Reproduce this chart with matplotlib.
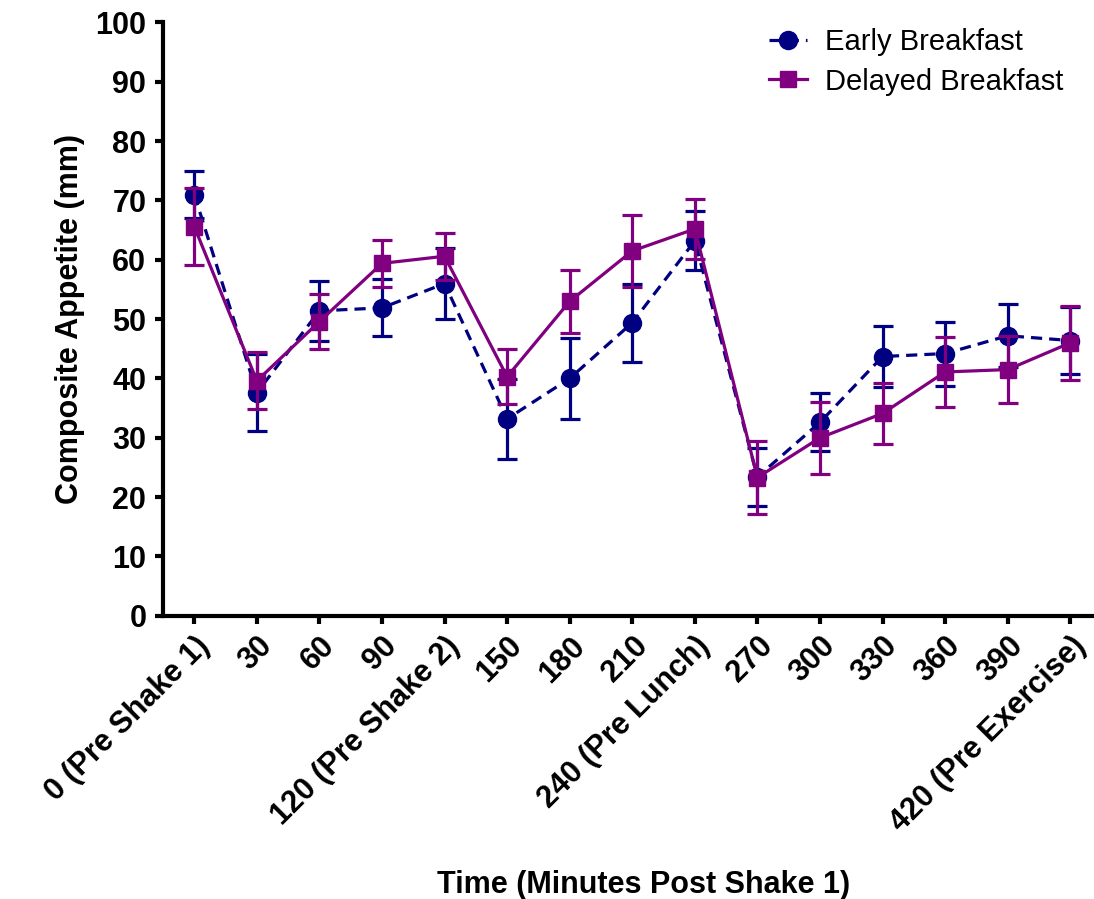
import matplotlib
matplotlib.use("Agg")
import matplotlib.pyplot as plt

plt.rcParams["font.family"] = ["Liberation Sans", "DejaVu Sans"]

time_labels = [
    "0 (Pre Shake 1)", "30", "60", "90", "120 (Pre Shake 2)", "150", "180",
    "210", "240 (Pre Lunch)", "270", "300", "330", "360", "390",
    "420 (Pre Exercise)",
]

early_mean = [71.0, 37.6, 51.4, 51.9, 56.0, 33.2, 40.0, 49.4, 63.2, 23.4,
              32.6, 43.7, 44.2, 47.2, 46.4]
early_err = [4.0, 6.5, 5.0, 4.8, 6.0, 6.7, 6.8, 6.6, 5.0, 4.9,
             4.9, 5.1, 5.4, 5.3, 5.6]

delayed_mean = [65.6, 39.6, 49.6, 59.4, 60.6, 40.3, 53.0, 61.5, 65.2, 23.3,
                30.0, 34.1, 41.1, 41.5, 46.0]
delayed_err = [6.5, 4.8, 4.6, 4.0, 4.0, 4.6, 5.3, 6.1, 5.0, 6.1,
               6.1, 5.2, 5.9, 5.6, 6.2]

navy = "#000080"
purple = "#800080"


def main():
    fig = plt.figure(figsize=(10.94, 8.99), dpi=100)
    ax = fig.add_axes([0.149, 0.315, 0.851, 0.66])

    x = list(range(len(time_labels)))

    ax.errorbar(x, early_mean, yerr=early_err, color=navy, ls=(0, (3.5, 2.2)),
                lw=2.3, marker="o", ms=13, elinewidth=2.3, capsize=7,
                capthick=2.3, label="Early Breakfast", zorder=3)
    ax.errorbar(x, delayed_mean, yerr=delayed_err, color=purple, ls="-",
                lw=2.3, marker="s", ms=11, elinewidth=2.3, capsize=7,
                capthick=2.3, label="Delayed Breakfast", zorder=4)

    ax.set_xlim(-0.5, 14.38)
    ax.set_ylim(0, 100)
    ax.set_yticks(range(0, 101, 10))
    ax.set_xticks(x)
    ax.set_xticklabels(time_labels, rotation=45, ha="right", va="top",
                       rotation_mode="anchor", fontsize=22, fontweight="bold")
    for lab in ax.get_yticklabels():
        lab.set_fontsize(22)
        lab.set_fontweight("bold")

    for side in ("top", "right"):
        ax.spines[side].set_visible(False)
    for side in ("left", "bottom"):
        ax.spines[side].set_linewidth(3)
    ax.tick_params(axis="both", width=3, length=6, direction="out")
    ax.tick_params(axis="x", pad=5)
    ax.tick_params(axis="y", pad=6)

    ax.set_ylabel("Composite Appetite (mm)", fontsize=22, fontweight="bold")
    ax.yaxis.set_label_coords(-0.084, 0.5)
    xl = ax.set_xlabel("Time (Minutes Post Shake 1)", fontsize=22,
                       fontweight="bold")
    xl.set_va("center")
    ax.xaxis.set_label_coords(0.516, -0.454)

    handles, labels = ax.get_legend_handles_labels()
    handles = [h[0] for h in handles]
    ax.legend(handles, labels, loc="upper right", frameon=False, fontsize=21,
              handlelength=1.3, handletextpad=0.6,
              bbox_to_anchor=(0.995, 1.035), labelspacing=0.4)

    fig.savefig("out.png", dpi=100)


if __name__ == "__main__":
    main()
